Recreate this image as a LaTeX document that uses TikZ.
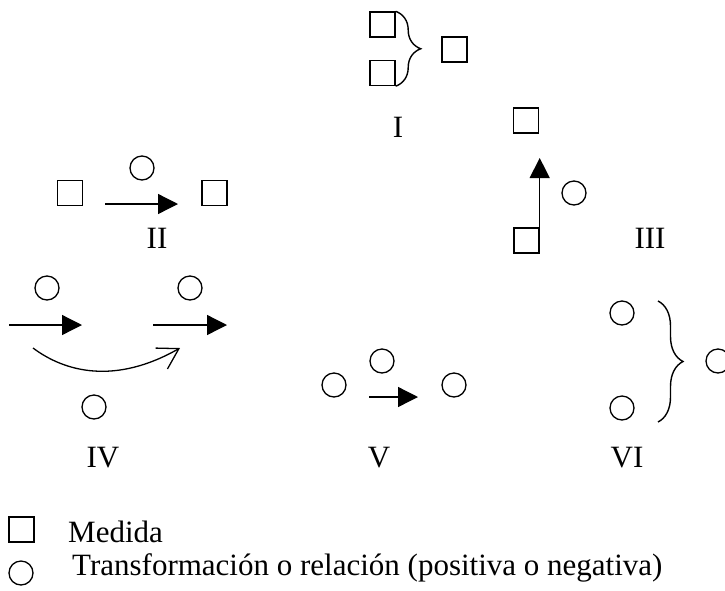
\documentclass[tikz,border=0pt]{standalone}
\usepackage{fontspec}
\setmainfont{Liberation Serif}
\usepackage{tikz}
\usetikzlibrary{arrows.meta,decorations.pathreplacing}

\begin{document}
\begin{tikzpicture}[x=1pt,y=-1pt,
    medida/.style={draw,line width=1.4pt,rectangle,minimum size=25pt,inner sep=0pt},
    trans/.style={draw,line width=1.3pt,circle,minimum size=24pt,inner sep=0pt},
    flecha/.style={line width=1.3pt,-{Triangle[length=20pt,width=20pt]}},
    curva/.style={line width=1.3pt,-{Straight Barb[length=20pt,width=24pt,line width=1.3pt]}},
    llave/.style={line width=1.4pt,decorate,decoration={brace,amplitude=25pt}},
    etiqueta/.style={font=\fontsize{31}{37}\selectfont,inner sep=0pt}]
    \useasboundingbox (0,0) rectangle (725,590);

    % I
    \node[medida] (m1a) at (382.5,24.5) {};
    \node[medida] (m1b) at (382.5,73) {};
    \node[medida] (m1c) at (454.5,49.5) {};
    \draw[llave] (m1a.north east) -- (m1b.south east);
    \node[etiqueta] (l1) at (398,127) {I};

    % II
    \node[medida] (m2a) at (70,193) {};
    \node[trans] (t2) at (142,168) {};
    \node[medida] (m2b) at (214.5,193) {};
    \coordinate (a2i) at (105,204);
    \coordinate (a2f) at (178,204);
    \draw[flecha] (a2i) -- (a2f);
    \node[etiqueta] (l2) at (157,238) {II};

    % III
    \node[medida] (m3a) at (526,120.5) {};
    \node[medida] (m3b) at (526.5,240.5) {};
    \node[trans] (t3) at (574,193) {};
    \coordinate (a3f) at (538.5,158);
    \draw[flecha] (m3b.north east) -- (m3b.north east |- a3f);
    \node[etiqueta] (l3) at (650,238) {III};

    % IV
    \node[trans] (t4a) at (47,288) {};
    \node[trans] (t4b) at (190,288) {};
    \node[trans] (t4c) at (94,407) {};
    \coordinate (a4i) at (9,325);
    \coordinate (a4f) at (82,325);
    \coordinate (b4i) at (153,325);
    \coordinate (b4f) at (227,325);
    \coordinate (c4i) at (33,348);
    \coordinate (c4f) at (180,348);
    \draw[flecha] (a4i) -- (a4f);
    \draw[flecha] (b4i) -- (b4f);
    \draw[curva] (c4i) .. controls (65,372) and (115,385) .. (c4f);
    \node[etiqueta] (l4) at (103,458) {IV};

    % V
    \node[trans] (t5a) at (334,385) {};
    \node[trans] (t5b) at (382,361) {};
    \node[trans] (t5c) at (454,385) {};
    \coordinate (a5i) at (369,397);
    \coordinate (a5f) at (418,397);
    \draw[flecha] (a5i) -- (a5f);
    \node[etiqueta] (l5) at (379,458) {V};

    % VI
    \node[trans] (t6a) at (622,313) {};
    \node[trans] (t6b) at (622,408) {};
    \node[trans] (t6c) at (718,361) {};
    \coordinate (b6i) at (658,301);
    \coordinate (b6f) at (658,422);
    \draw[llave] (b6i) -- (b6f);
    \node[etiqueta] (l6) at (627,458) {VI};

    % leyenda
    \node[medida] (lm) at (21.5,529.5) {};
    \node[etiqueta,anchor=base west] (tm) at (68,542) {Medida};
    \node[trans] (lt) at (21,573) {};
    \node[etiqueta,anchor=base west] (tt) at (72,575) {Transformación o relación (positiva o negativa)};
\end{tikzpicture}
\end{document}
